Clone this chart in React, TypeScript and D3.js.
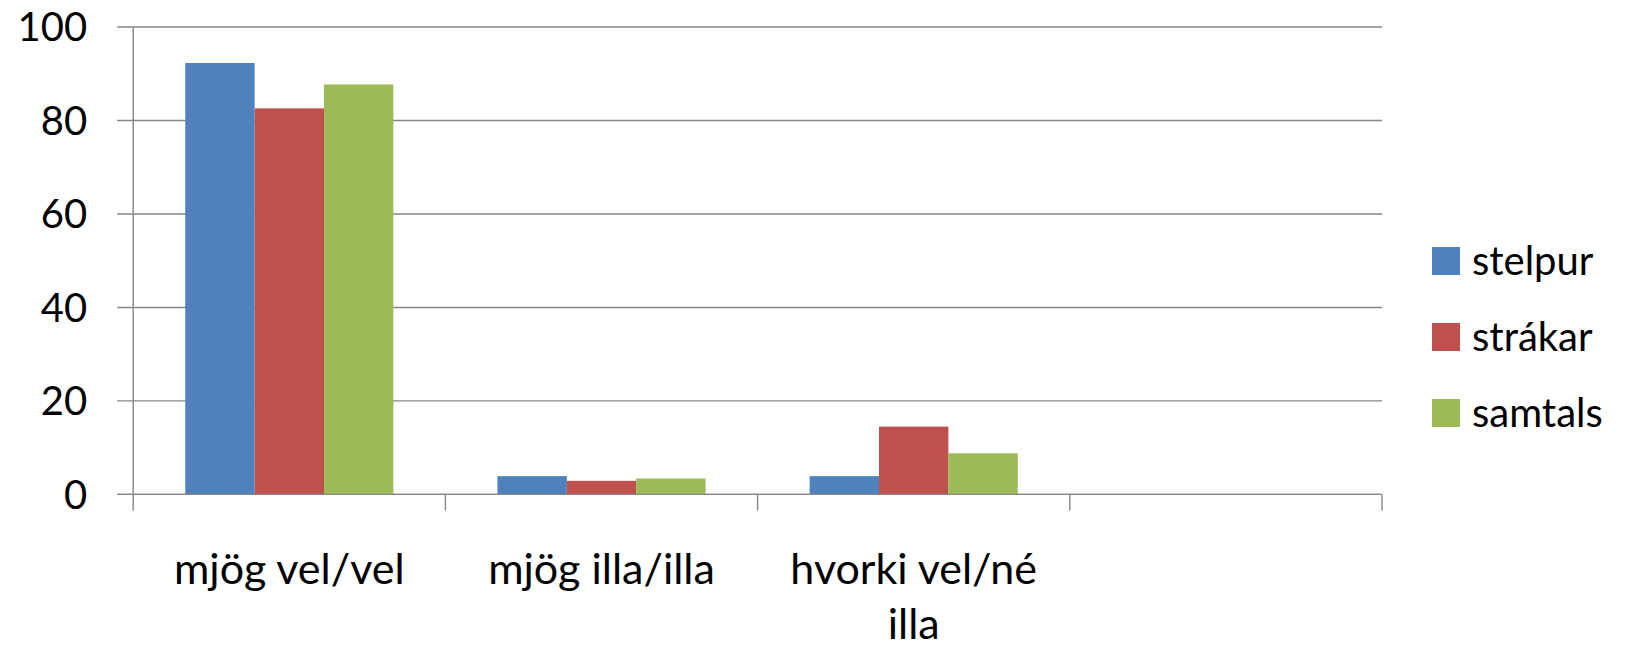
import React, { useEffect, useRef } from "react";
import * as d3 from "d3";

const categories = ["mjög vel/vel", "mjög illa/illa", "hvorki vel/né illa", ""];
const seriesNames = ["stelpur", "strákar", "samtals"];
const stelpur = [92.3, 3.9, 3.9, null];
const strakar = [82.6, 2.9, 14.5, null];
const samtals = [87.7, 3.4, 8.8, null];
const seriesColors = ["#4F81BD", "#C0504D", "#9BBB59"];
const yTicks = [0, 20, 40, 60, 80, 100];

const W = 1632;
const H = 650;
const FONT = "Lato, 'Open Sans', sans-serif";

export default function App() {
  const ref = useRef<SVGSVGElement>(null);

  useEffect(() => {
    const svg = d3.select(ref.current);
    svg.selectAll("*").remove();

    const left = 133.2;
    const right = 1382;
    const top = 27;
    const bottom = 494.4;

    const x = d3.scaleBand<string>().domain(categories.map((c, i) => String(i))).range([left, right]).paddingInner(0).paddingOuter(0);
    const step = x.step();
    const barW = step / 4.5;
    const xs = d3.scaleBand<string>().domain(seriesNames).range([barW * 0.75, step - barW * 0.75]).padding(0);
    const y = d3.scaleLinear().domain([0, 100]).range([bottom, top]);

    const grid = "#868686";

    // gridlines
    svg.append("g")
      .selectAll("line")
      .data(yTicks)
      .join("line")
      .attr("x1", left - 16)
      .attr("x2", right)
      .attr("y1", (d) => y(d))
      .attr("y2", (d) => y(d))
      .attr("stroke", grid)
      .attr("stroke-width", 1.4);

    // y axis line
    svg.append("line")
      .attr("x1", left).attr("x2", left)
      .attr("y1", top).attr("y2", bottom + 16)
      .attr("stroke", grid).attr("stroke-width", 1.4);

    // category ticks
    const tickXs = categories.map((_, i) => x(String(i))!).concat([right]);
    svg.append("g")
      .selectAll("line")
      .data(tickXs.slice(1))
      .join("line")
      .attr("x1", (d) => d).attr("x2", (d) => d)
      .attr("y1", bottom).attr("y2", bottom + 16)
      .attr("stroke", grid).attr("stroke-width", 1.4);

    // y labels
    svg.append("g")
      .selectAll("text")
      .data(yTicks)
      .join("text")
      .attr("x", left - 46)
      .attr("y", (d) => y(d))
      .attr("dy", "0.36em")
      .attr("text-anchor", "end")
      .attr("font-family", FONT)
      .attr("font-size", 40)
      .attr("fill", "#000")
      .text((d) => String(d));

    // bars
    const series = [stelpur, strakar, samtals];
    series.forEach((vals, si) => {
      svg.append("g")
        .selectAll("rect")
        .data(vals.map((v, i) => ({ v, i })).filter((d) => d.v != null))
        .join("rect")
        .attr("x", (d) => x(String(d.i))! + xs(seriesNames[si])!)
        .attr("width", xs.bandwidth())
        .attr("y", (d) => y(d.v as number))
        .attr("height", (d) => bottom - y(d.v as number))
        .attr("fill", seriesColors[si]);
    });

    // redraw baseline over bars
    svg.append("line")
      .attr("x1", left - 16).attr("x2", right)
      .attr("y1", bottom).attr("y2", bottom)
      .attr("stroke", grid).attr("stroke-width", 1.4);

    // category labels with wrapping
    const maxW = step * 0.85;
    const catG = svg.append("g");
    categories.forEach((c, i) => {
      const cx = x(String(i))! + step / 2;
      const t = catG.append("text")
        .attr("x", cx)
        .attr("y", 584)
        .attr("text-anchor", "middle")
        .attr("font-family", FONT)
        .attr("font-size", 43)
        .attr("fill", "#000");
      const words = c.split(" ").filter((w) => w.length);
      let line: string[] = [];
      let tspan = t.append("tspan").attr("x", cx).attr("dy", 0);
      words.forEach((w) => {
        line.push(w);
        tspan.text(line.join(" "));
        if ((tspan.node() as SVGTSpanElement).getComputedTextLength() > maxW && line.length > 1) {
          line.pop();
          tspan.text(line.join(" "));
          line = [w];
          tspan = t.append("tspan").attr("x", cx).attr("dy", 55).text(w);
        }
      });
    });

    // legend
    const lg = svg.append("g");
    seriesNames.forEach((n, i) => {
      const cy = 261 + i * 76;
      lg.append("rect")
        .attr("x", 1432).attr("y", cy - 14)
        .attr("width", 28).attr("height", 28)
        .attr("fill", seriesColors[i]);
      lg.append("text")
        .attr("x", 1472).attr("y", cy)
        .attr("dy", "0.36em")
        .attr("font-family", FONT)
        .attr("font-size", 40)
        .attr("fill", "#000")
        .text(n);
    });
  }, []);

  return (
    <svg
      ref={ref}
      width={W}
      height={H}
      style={{ position: "absolute", left: 0, top: 0, background: "#fff" }}
    />
  );
}
